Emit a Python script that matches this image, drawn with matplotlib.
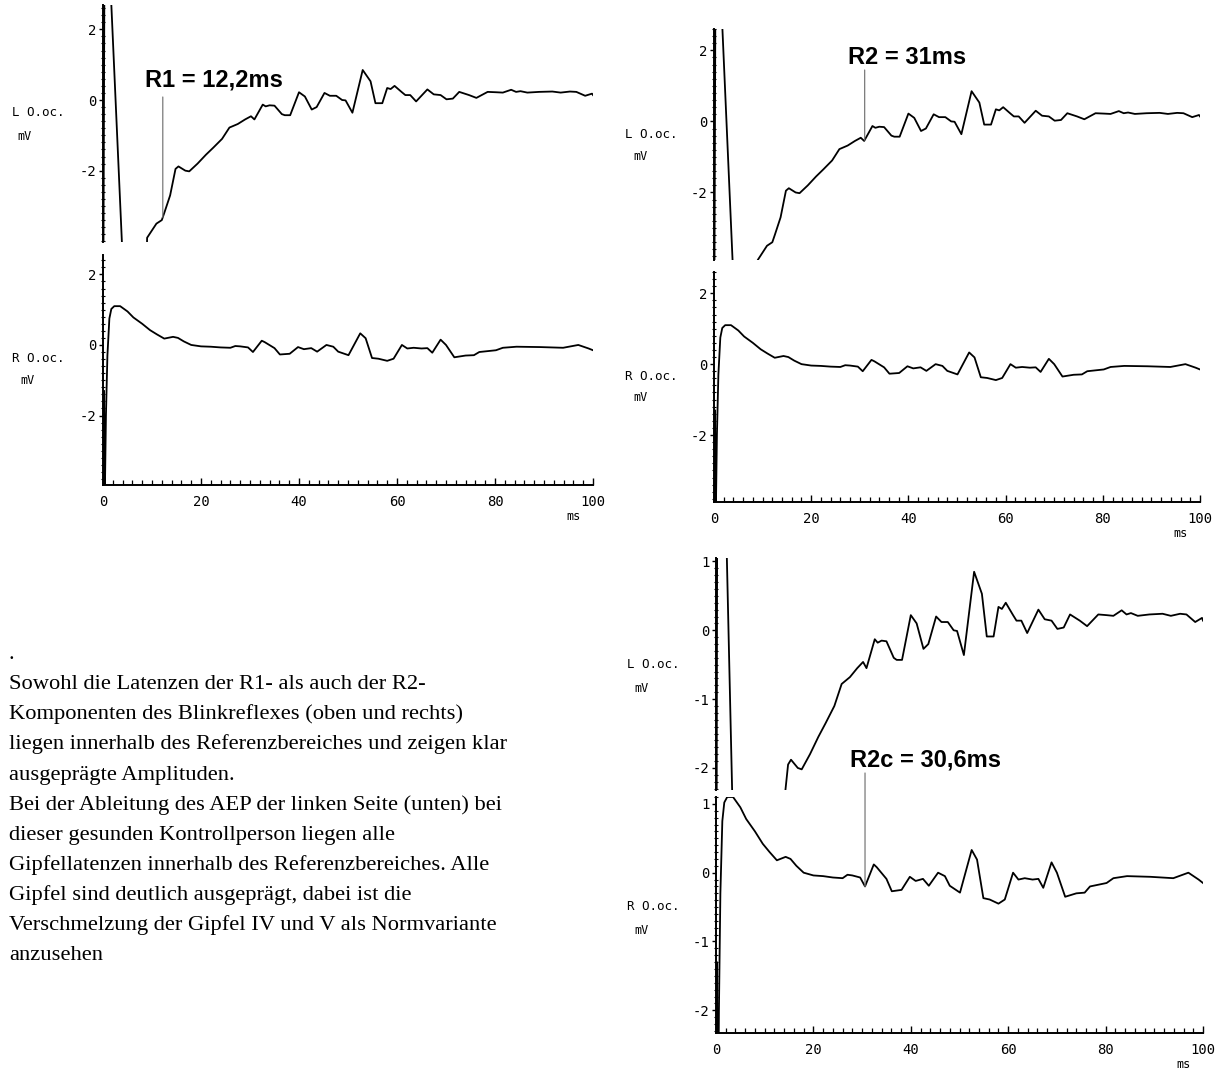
import numpy as np
import matplotlib
matplotlib.use("Agg")
import matplotlib.pyplot as plt
from matplotlib.ticker import MultipleLocator, FixedLocator

W, H = 1223, 1072

# ---------------- data ----------------
# left orbicularis oculi (L O.oc.) trace, time in ms, amplitude in mV
t_left = [0.0, 0.4, 1.7, 3.85, 5.0, 8.5, 9.0, 10.9, 12.0, 12.5, 13.7, 14.8, 15.4,
          16.8, 17.6, 19.3, 21.0, 22.5, 24.3, 25.8, 27.5, 29.0, 30.2, 30.9, 32.6,
          33.2, 34.0, 35.0, 36.5, 37.1, 38.2, 40.0, 41.2, 42.6, 43.6, 45.2, 46.3,
          47.6, 48.8, 49.5, 50.9, 53.0, 54.6, 55.6, 57.0, 58.0, 58.7, 59.5, 61.0,
          61.7, 62.7, 63.9, 66.2, 67.5, 68.9, 70.1, 71.4, 72.7, 74.7, 76.2, 78.5,
          80.2, 81.6, 83.3, 84.3, 85.2, 86.6, 89.0, 91.7, 93.4, 95.3, 96.6, 98.4,
          99.8, 100.0]
v_left = [-8.0, 8.0, 2.7, -4.0, -8.0, -8.0, -3.9, -3.5, -3.4, -3.2, -2.7, -1.95, -1.88,
          -2.0, -2.02, -1.8, -1.55, -1.35, -1.1, -0.78, -0.68, -0.55, -0.46, -0.55, -0.13,
          -0.18, -0.15, -0.16, -0.4, -0.43, -0.43, 0.22, 0.10, -0.27, -0.20, 0.20, 0.12,
          0.12, 0.0, -0.01, -0.36, 0.85, 0.53, -0.09, -0.09, 0.34, 0.31, 0.40, 0.22,
          0.14, 0.14, -0.04, 0.30, 0.16, 0.14, 0.02, 0.04, 0.23, 0.14, 0.06, 0.23,
          0.22, 0.21, 0.29, 0.23, 0.25, 0.21, 0.23, 0.24, 0.21, 0.24, 0.23, 0.12,
          0.18, 0.14]

# right orbicularis oculi (R O.oc.) trace
t_right = [0.0, 0.2, 0.35, 0.6, 0.9, 1.3, 1.7, 2.3, 3.5, 4.2, 5.0, 6.2, 8.0, 9.6,
           11.0, 12.5, 14.3, 15.3, 16.5, 18.0, 20.0, 22.0, 24.0, 26.0, 27.0, 28.0,
           29.6, 30.6, 32.4, 33.0, 35.0, 36.1, 38.1, 39.8, 41.0, 42.5, 43.7, 45.6,
           47.0, 48.0, 50.1, 52.5, 53.6, 54.9, 56.2, 58.0, 59.3, 61.0, 62.1, 63.4,
           65.0, 66.2, 67.2, 68.9, 70.0, 71.7, 74.0, 75.7, 76.8, 80.2, 81.6, 84.4,
           89.2, 93.9, 97.0, 99.1, 100.0]
v_right = [-6.0, -1.3, -4.5, -2.0, -0.3, 0.75, 1.02, 1.1, 1.1, 1.03, 0.95, 0.78, 0.6, 0.42,
           0.3, 0.18, 0.23, 0.2, 0.1, 0.0, -0.04, -0.05, -0.07, -0.08, -0.03, -0.04,
           -0.07, -0.20, 0.12, 0.08, -0.09, -0.27, -0.25, -0.06, -0.12, -0.09, -0.19, 0.0,
           -0.05, -0.19, -0.29, 0.33, 0.19, -0.37, -0.39, -0.45, -0.39, 0.0, -0.1, -0.08,
           -0.1, -0.09, -0.22, 0.15, 0.0, -0.35, -0.3, -0.29, -0.2, -0.15, -0.08, -0.05,
           -0.06, -0.08, 0.0, -0.1, -0.15]

x_ticks = [0, 20, 40, 60, 80, 100]
y_ticks_wide = [2, 0, -2]
y_ticks_zoom = [1, 0, -1, -2]

latency_labels = ["R1 = 12,2ms", "R2 = 31ms", "R2c = 30,6ms"]
latency_values = [12.2, 31.0, 30.6]

channel_left = "L O.oc."
channel_right = "R O.oc."
unit_y = "mV"
unit_x = "ms"

paragraph = [
    ".",
    "Sowohl die Latenzen der R1- als auch der R2-",
    "Komponenten des Blinkreflexes (oben und rechts)",
    "liegen innerhalb des Referenzbereiches und zeigen klar",
    "ausgeprägte Amplituden.",
    "Bei der Ableitung des AEP der linken Seite (unten) bei",
    "dieser gesunden Kontrollperson liegen alle",
    "Gipfellatenzen innerhalb des Referenzbereiches. Alle",
    "Gipfel sind deutlich ausgeprägt, dabei ist die",
    "Verschmelzung der Gipfel IV und V als Normvariante",
    "anzusehen",
]

# ---------------- figure ----------------
fig = plt.figure(figsize=(W / 100, H / 100), dpi=100)
MONO = "DejaVu Sans Mono"


def box(l, t, r, b):
    return [l / W, 1 - b / H, (r - l) / W, (b - t) / H]


def fig_xy(x, y):
    return x / W, 1 - y / H


def make_panel(rect, ylim, yticks, yminor, tt, vv, xaxis, lbl, lbl_pos):
    ax = fig.add_axes(box(*rect))
    ax.patch.set_alpha(0)
    ax.plot(tt, vv, color="black", lw=1.3, solid_joinstyle="round")
    ax.set_xlim(0, 100)
    ax.set_ylim(*ylim)
    for s in ("top", "right"):
        ax.spines[s].set_visible(False)
    ax.spines["left"].set_linewidth(1.4)
    ax.yaxis.set_major_locator(FixedLocator(yticks))
    ax.yaxis.set_minor_locator(MultipleLocator(yminor))
    ax.set_yticklabels([f"{v:g}" for v in yticks], fontfamily=MONO, fontsize=10)
    ax.tick_params(axis="y", which="major", direction="out", length=3, width=1.0, pad=1.5)
    ax.tick_params(axis="y", which="minor", direction="inout", length=2.5, width=0.8)
    if xaxis:
        ax.spines["bottom"].set_linewidth(1.4)
        ax.xaxis.set_major_locator(FixedLocator(x_ticks))
        ax.xaxis.set_minor_locator(MultipleLocator(2))
        ax.set_xticklabels([str(v) for v in x_ticks], fontfamily=MONO, fontsize=10)
        ax.tick_params(axis="x", which="major", direction="in", length=5, width=1.0, pad=7.5)
        ax.tick_params(axis="x", which="minor", direction="in", length=3.5, width=0.9)
        ax.annotate(unit_x, xy=(1, 0), xycoords="axes fraction", xytext=(-14, -23),
                    textcoords="offset points", ha="center", va="center",
                    fontfamily=MONO, fontsize=8.5)
    else:
        ax.spines["bottom"].set_visible(False)
        ax.tick_params(axis="x", which="both", bottom=False, labelbottom=False)
    (lx, ly), (mx, my) = lbl_pos
    fig.text(*fig_xy(lx, ly), lbl, ha="left", va="center", fontfamily=MONO, fontsize=9)
    fig.text(*fig_xy(mx, my), unit_y, ha="left", va="center", fontfamily=MONO, fontsize=8.5)
    return ax


# top-left group
tl_L = make_panel((103, 5, 593, 242), (-4.02, 2.69), y_ticks_wide, 0.2, t_left, v_left,
                  False, channel_left, ((12, 113), (17, 137)))
tl_R = make_panel((103, 255, 593, 485), (-3.97, 2.55), y_ticks_wide, 0.2, t_right, v_right,
                  True, channel_right, ((12, 359), (20, 380)))
# top-right group
tr_L = make_panel((714, 29, 1200, 260), (-3.9, 2.6), y_ticks_wide, 0.2, t_left, v_left,
                  False, channel_left, ((625, 135), (633, 157)))
tr_R = make_panel((714, 272, 1200, 502), (-3.89, 2.6), y_ticks_wide, 0.2, t_right, v_right,
                  True, channel_right, ((625, 377), (633, 398)))
# bottom-right group
br_L = make_panel((716, 558, 1203, 790), (-2.32, 1.05), y_ticks_zoom, 0.1, t_left, v_left,
                  False, channel_left, ((627, 665), (634, 688)))
br_R = make_panel((716, 797, 1203, 1033), (-2.33, 1.1), y_ticks_zoom, 0.1, t_right, v_right,
                  True, channel_right, ((627, 907), (634, 931)))

# ---------------- latency annotations ----------------
ann_font = dict(fontfamily="Liberation Sans", fontweight="bold", fontsize=17)
line_style = dict(arrowstyle="-", color="#7a7a7a", lw=0.9, shrinkA=0, shrinkB=0)

# R1 (top-left, left channel)
fig.text(*fig_xy(145, 80), latency_labels[0], ha="left", va="center", **ann_font)
lat = latency_values[0]
tl_L.annotate("", xy=(lat, np.interp(lat, t_left, v_left)), xycoords="data",
              xytext=(lat, 1 - 97 / H), textcoords=("data", "figure fraction"),
              arrowprops=line_style)

# R2 (top-right, left channel)
fig.text(*fig_xy(848, 57), latency_labels[1], ha="left", va="center", **ann_font)
lat = latency_values[1]
tr_L.annotate("", xy=(lat, np.interp(lat, t_left, v_left)), xycoords="data",
              xytext=(lat, 1 - 70 / H), textcoords=("data", "figure fraction"),
              arrowprops=line_style)

# R2c (bottom-right, right channel)
fig.text(*fig_xy(850, 760), latency_labels[2], ha="left", va="center", **ann_font)
lat = latency_values[2]
br_R.annotate("", xy=(lat, np.interp(lat, t_right, v_right)), xycoords="data",
              xytext=(lat, 1 - 773 / H), textcoords=("data", "figure fraction"),
              arrowprops=line_style, annotation_clip=False)

# ---------------- paragraph ----------------
for i, line in enumerate(paragraph):
    fig.text(*fig_xy(9, 659.2 + i * 30.1), line, ha="left", va="baseline",
             fontfamily="Liberation Serif", fontsize=16.2)

fig.savefig("out.png", dpi=100, facecolor="white")
